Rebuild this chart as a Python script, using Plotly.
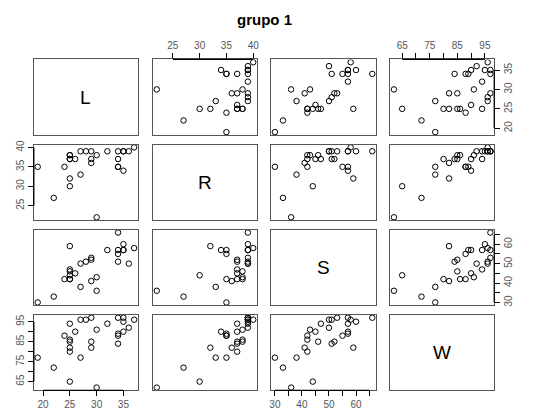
import plotly.graph_objects as go

# ---- data ----
var_names = ["L", "R", "S", "W"]
L = [19, 22, 24, 25, 25, 25, 25, 25, 25, 26, 27, 27, 28, 29, 29, 29, 30, 30, 32, 34, 34, 34, 34, 35, 35, 35, 36, 37]
R = [35, 27, 35, 32, 30, 37, 38, 38, 37, 37, 33, 39, 39, 39, 37, 36, 38, 22, 39, 39, 35, 35, 37, 34, 39, 39, 39, 40]
S = [30, 33, 42, 59, 44, 47, 46, 42, 42, 45, 38, 50, 51, 53, 52, 41, 43, 36, 57, 66, 57, 55, 51, 57, 60, 57, 50, 58]
W = [77, 72, 88, 82, 65, 94, 85, 86, 80, 90, 77, 96, 96, 97, 85, 82, 91, 62, 94, 97, 89, 88, 84, 90, 95, 97, 92, 96]
data = [L, R, S, W]

tick_vals = {
    "L": [20, 25, 30, 35],
    "R": [25, 30, 35, 40],
    "S": [30, 35, 40, 45, 50, 55, 60, 65],
    "W": [65, 70, 75, 80, 85, 90, 95],
}
tick_labels = {
    "L": ["20", "25", "30", "35"],
    "R": ["25", "30", "35", "40"],
    "S": ["30", "", "40", "", "50", "", "60", ""],
    "W": ["65", "", "75", "", "85", "", "95"],
}
title_text = "grupo 1"

# ---- layout geometry (pixels in the page; the page body has an 8px margin) ----
PAGE_W, PAGE_H = 538, 418
OFF = 8
W_PX, H_PX = PAGE_W - 2 * OFF, PAGE_H - 2 * OFF
col_px = [(32, 137), (152, 257), (271, 377), (391, 496)]
row_px = [(56, 134), (144, 222), (232, 310), (320, 398)]

def fx(p):
    return (p - OFF) / W_PX

def fy(p):
    return 1 - (p - OFF) / H_PX

def rng(v):
    lo, hi = min(v), max(v)
    pad = 0.04 * (hi - lo)
    return [lo - pad, hi + pad]

FONT = "Liberation Sans, Arial, sans-serif"
fig = go.Figure()
layout = dict(
    width=W_PX, height=H_PX,
    margin=dict(l=0, r=0, t=0, b=0),
    paper_bgcolor="white", plot_bgcolor="white",
    showlegend=False,
    font=dict(family=FONT, size=10, color="#555555"),
)
annotations = []
shapes = []

n = 4
for i in range(n):
    for j in range(n):
        k = i * n + j + 1
        xa = "xaxis" if k == 1 else f"xaxis{k}"
        ya = "yaxis" if k == 1 else f"yaxis{k}"
        xr = "x" if k == 1 else f"x{k}"
        yr = "y" if k == 1 else f"y{k}"
        xname, yname = var_names[j], var_names[i]
        x0, x1 = col_px[j]
        y0, y1 = row_px[i]
        xdom = [fx(x0), fx(x1)]
        ydom = [fy(y1), fy(y0)]

        show_x = (i == 0 and j % 2 == 1) or (i == n - 1 and j % 2 == 0)
        xside = "top" if i == 0 else "bottom"
        show_y = (j == 0 and i % 2 == 1) or (j == n - 1 and i % 2 == 0)
        yside = "left" if j == 0 else "right"

        layout[xa] = dict(
            domain=xdom, anchor=yr, range=rng(data[j]),
            showgrid=False, zeroline=False,
            showline=True, mirror=True, linecolor="#555555", linewidth=1,
            tickmode="array", tickvals=tick_vals[xname], ticktext=tick_labels[xname],
            ticks="outside" if show_x else "", ticklen=5, tickcolor="black", tickwidth=1,
            showticklabels=show_x, side=xside,
            tickfont=dict(family=FONT, size=10, color="#555555"),
        )
        layout[ya] = dict(
            domain=ydom, anchor=xr, range=rng(data[i]),
            showgrid=False, zeroline=False,
            showline=True, mirror=True, linecolor="#555555", linewidth=1,
            tickmode="array", tickvals=tick_vals[yname], ticktext=tick_labels[yname],
            ticks="outside" if show_y else "", ticklen=5, tickcolor="black", tickwidth=1,
            showticklabels=show_y, side=yside, tickangle=-90,
            tickfont=dict(family=FONT, size=10, color="#555555"),
        )

        # R-style axis line spanning first..last tick
        if show_x:
            tv = tick_vals[xname]
            yy = 1 if xside == "top" else 0
            shapes.append(dict(type="line", xref=xr, yref=f"{yr} domain",
                               x0=min(tv), x1=max(tv), y0=yy, y1=yy,
                               line=dict(color="black", width=1.3)))
        if show_y:
            tv = tick_vals[yname]
            xx = 0 if yside == "left" else 1
            shapes.append(dict(type="line", xref=f"{xr} domain", yref=yr,
                               x0=xx, x1=xx, y0=min(tv), y1=max(tv),
                               line=dict(color="black", width=1.3)))

        if i == j:
            annotations.append(dict(
                text=var_names[i], xref=f"{xr} domain", yref=f"{yr} domain",
                x=0.5, y=0.5, showarrow=False,
                font=dict(family=FONT, size=19, color="black"),
            ))
            fig.add_trace(go.Scatter(x=[], y=[], xaxis=xr, yaxis=yr))
        else:
            fig.add_trace(go.Scatter(
                x=data[j], y=data[i], mode="markers", xaxis=xr, yaxis=yr,
                marker=dict(symbol="circle-open", size=5.5, color="black",
                            line=dict(width=1, color="black")),
                hoverinfo="skip",
            ))

annotations.append(dict(
    text=f"<b>{title_text}</b>", xref="paper", yref="paper",
    x=fx((col_px[0][0] + col_px[-1][1]) / 2), y=fy(15),
    xanchor="center", yanchor="middle", showarrow=False,
    font=dict(family=FONT, size=15, color="black"),
))
layout["annotations"] = annotations
layout["shapes"] = shapes
fig.update_layout(**layout)
fig.write_html("out.html")
